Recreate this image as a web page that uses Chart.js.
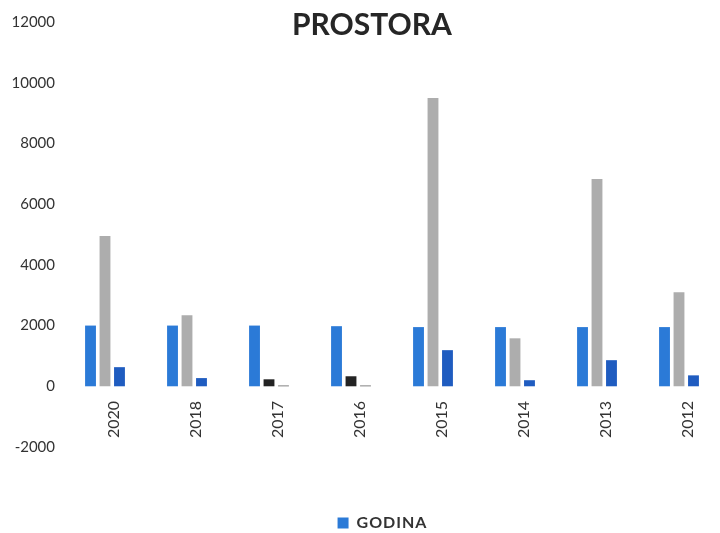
<!DOCTYPE html>
<html>
<head>
<meta charset="utf-8">
<script src="https://cdn.jsdelivr.net/npm/chart.js@4"></script>
<style>
html,body{margin:0;padding:0;background:#fff;}
#wrap{width:720px;height:533px;position:relative;}
</style>
</head>
<body>
<div id="wrap"><canvas id="c" width="720" height="533"></canvas></div>
<script>
const titleText = 'PROSTORA';
const categories = ['2020','2018','2017','2016','2015','2014','2013','2012'];
const seriesGodina = [2000, 2000, 2000, 1980, 1950, 1950, 1950, 1950];
const seriesGray = [4950, 2340, 230, 330, 9500, 1580, 6830, 3100];
const seriesDark = [630, 270, 25, 25, 1190, 200, 860, 360];
const yTicks = [-2000, 0, 2000, 4000, 6000, 8000, 10000, 12000];

const grayColors = seriesGray.map((v, i) => (i === 2 || i === 3) ? '#232323' : '#adadad');
const darkColors = seriesDark.map((v, i) => (i === 2 || i === 3) ? '#5a5a5a' : '#1f5cc0');

const legendSpacingPlugin = {
  id: 'legendSpacing',
  afterLayout(chart) {
    const lg = chart.legend;
    if (lg && !lg._spaced) {
      const orig = lg.draw;
      lg.draw = function () {
        const ctx = this.ctx;
        ctx.letterSpacing = '1px';
        orig.apply(this, arguments);
        ctx.letterSpacing = '0px';
      };
      lg._spaced = true;
    }
  }
};

const titlePlugin = {
  id: 'titleText',
  afterDraw(chart) {
    const ctx = chart.ctx;
    ctx.save();
    ctx.letterSpacing = '0px';
    ctx.font = 'bold 30px Lato, "Open Sans", sans-serif';
    ctx.fillStyle = '#262626';
    ctx.textAlign = 'center';
    ctx.textBaseline = 'middle';
    ctx.fillText(titleText, 372, 25);
    ctx.restore();
  }
};

function noClip(s) { s._computeLabelArea = () => undefined; }

new Chart(document.getElementById('c'), {
  type: 'bar',
  data: {
    labels: categories,
    datasets: [
      { label: 'GODINA', data: seriesGodina, backgroundColor: '#2b7ad7' },
      { label: 'S2', data: seriesGray, backgroundColor: grayColors },
      { label: 'S3', data: seriesDark, backgroundColor: darkColors }
    ]
  },
  options: {
    responsive: false,
    animation: false,
    categoryPercentage: 0.53,
    barPercentage: 0.75,
    layout: { padding: { top: 22, left: 39, right: 0, bottom: -8 } },
    plugins: {
      title: { display: false },
      tooltip: { enabled: false },
      legend: {
        position: 'bottom',
        fullSize: true,
        labels: {
          filter: (item) => item.datasetIndex === 0,
          boxWidth: 11, boxHeight: 11, padding: 0,
          color: '#333',
          font: { family: 'Lato, "Open Sans", sans-serif', size: 16, weight: 'bold' }
        }
      }
    },
    scales: {
      x: {
        position: 'bottom',
        grid: { display: false, drawTicks: false },
        border: { display: false },
        ticks: {
          minRotation: 90, maxRotation: 90, padding: -46, labelOffset: 9,
          color: '#333',
          font: { family: 'Lato, "Open Sans", sans-serif', size: 16 }
        },
        afterFit(s) { s.height = 68; noClip(s); }
      },
      y: {
        min: -2000, max: 12000,
        afterBuildTicks(s) { s.ticks = yTicks.map(v => ({ value: v })); },
        grid: { display: false, drawTicks: false },
        border: { display: false },
        ticks: {
          padding: 9, color: '#333',
          font: { family: 'Lato, "Open Sans", sans-serif', size: 15 },
          callback: (v) => String(v)
        },
        afterFit(s) { s.width = 25; noClip(s); }
      }
    }
  },
  plugins: [legendSpacingPlugin, titlePlugin]
});
</script>
</body>
</html>
